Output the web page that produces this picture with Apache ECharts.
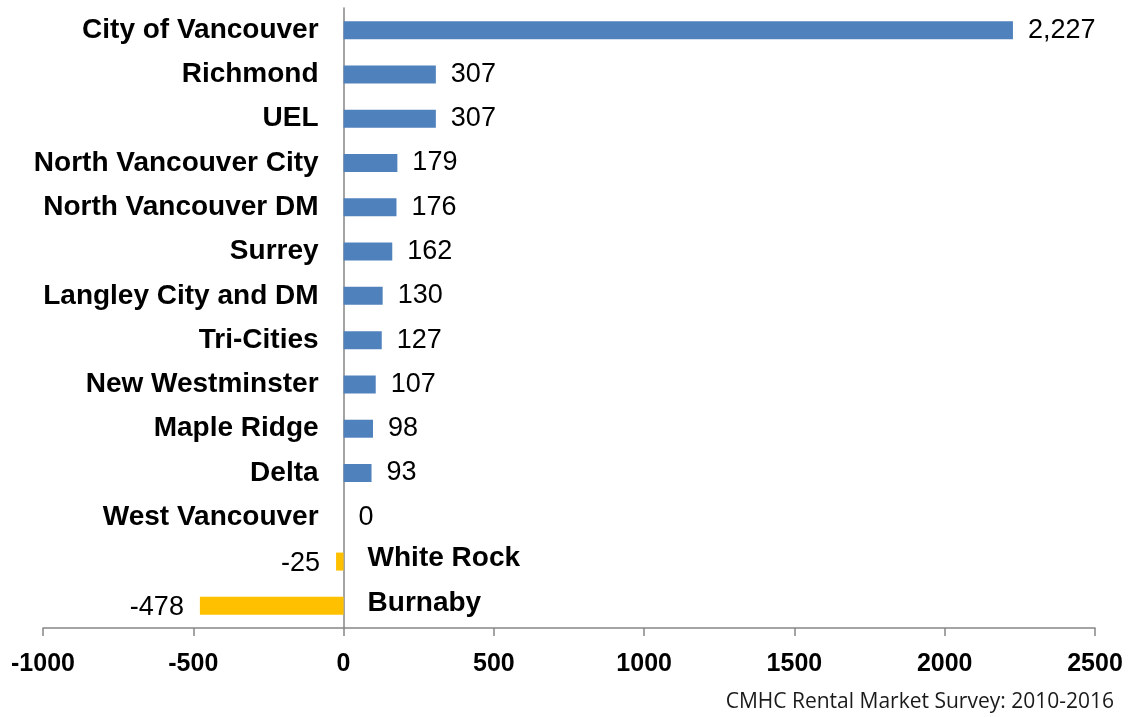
<!DOCTYPE html>
<html>
<head>
<meta charset="utf-8">
<style>
  html, body { margin: 0; padding: 0; background: #fff; }
  #main { width: 1129px; height: 717px; }
</style>
<script src="https://cdn.jsdelivr.net/npm/echarts@6/dist/echarts.min.js"></script>
</head>
<body>
<div id="main"></div>
<script>
var categories = ['City of Vancouver', 'Richmond', 'UEL', 'North Vancouver City', 'North Vancouver DM',
  'Surrey', 'Langley City and DM', 'Tri-Cities', 'New Westminster', 'Maple Ridge', 'Delta',
  'West Vancouver', 'White Rock', 'Burnaby'];
var values = [2227, 307, 307, 179, 176, 162, 130, 127, 107, 98, 93, 0, -25, -478];
var xTicks = { min: -1000, max: 2500, step: 500 };
var source = 'CMHC Rental Market Survey: 2010-2016';

var posValues = values.map(function (v) { return v >= 0 ? v : '-'; });
var negValues = values.map(function (v) { return v < 0 ? v : '-'; });
// category names sit on the opposite side of the zero line from the bar
var nameData = values.map(function (v) {
  return {
    value: v,
    label: v >= 0 ? { position: 'left', distance: 25, offset: [0, 0] }
                  : { position: 'right', distance: 24, offset: [0, -3] }
  };
});

var chartDom = document.getElementById('main');
var myChart = echarts.init(chartDom);
var font = "'Liberation Sans', Arial, sans-serif";
var axisColor = '#868686';
var option;
option = {
  animation: false,
  grid: {
    left: 43,
    right: 34,
    top: 8,
    bottom: 89,
    containLabel: false,
    outerBoundsMode: 'none'
  },
  xAxis: {
    type: 'value',
    min: xTicks.min,
    max: xTicks.max,
    interval: xTicks.step,
    axisLine: { show: true, lineStyle: { color: axisColor, width: 1.5 } },
    axisTick: { show: true, length: 8, lineStyle: { color: axisColor, width: 1.5 } },
    splitLine: { show: false },
    axisLabel: {
      margin: 24,
      fontFamily: font,
      fontWeight: 'bold',
      fontSize: 25,
      color: '#000',
      formatter: function (v) { return String(v); }
    }
  },
  yAxis: {
    type: 'category',
    inverse: true,
    data: categories,
    axisLine: { show: true, onZero: true, lineStyle: { color: axisColor, width: 1.5 } },
    axisTick: { show: false },
    axisLabel: { show: false }
  },
  series: [
    {
      name: 'increase',
      type: 'bar',
      data: posValues,
      barWidth: 18,
      barGap: '-100%',
      itemStyle: { color: '#4F81BD' },
      label: {
        show: true,
        position: 'right',
        distance: 15,
        fontFamily: font,
        fontSize: 27,
        color: '#000',
        formatter: function (p) { return p.value.toLocaleString('en-US'); }
      }
    },
    {
      name: 'decrease',
      type: 'bar',
      data: negValues,
      barWidth: 18,
      barGap: '-100%',
      itemStyle: { color: '#FFC000' },
      label: {
        show: true,
        position: 'left',
        distance: 16,
        offset: [0, 2],
        fontFamily: font,
        fontSize: 27,
        color: '#000',
        formatter: function (p) { return String(p.value); }
      }
    },
    {
      name: 'names',
      type: 'bar',
      data: nameData,
      barWidth: 18,
      barGap: '-100%',
      silent: true,
      itemStyle: { color: 'rgba(0,0,0,0)' },
      label: {
        show: true,
        fontFamily: font,
        fontWeight: 'bold',
        fontSize: 28,
        color: '#000',
        formatter: function (p) { return p.name; }
      }
    }
  ],
  graphic: [
    {
      type: 'text',
      right: 15,
      bottom: 4,
      style: {
        text: source,
        fontFamily: "'Open Sans', sans-serif",
        fontSize: 21,
        fill: '#1a1a1a'
      }
    }
  ]
};
option && myChart.setOption(option);
</script>
</body>
</html>
